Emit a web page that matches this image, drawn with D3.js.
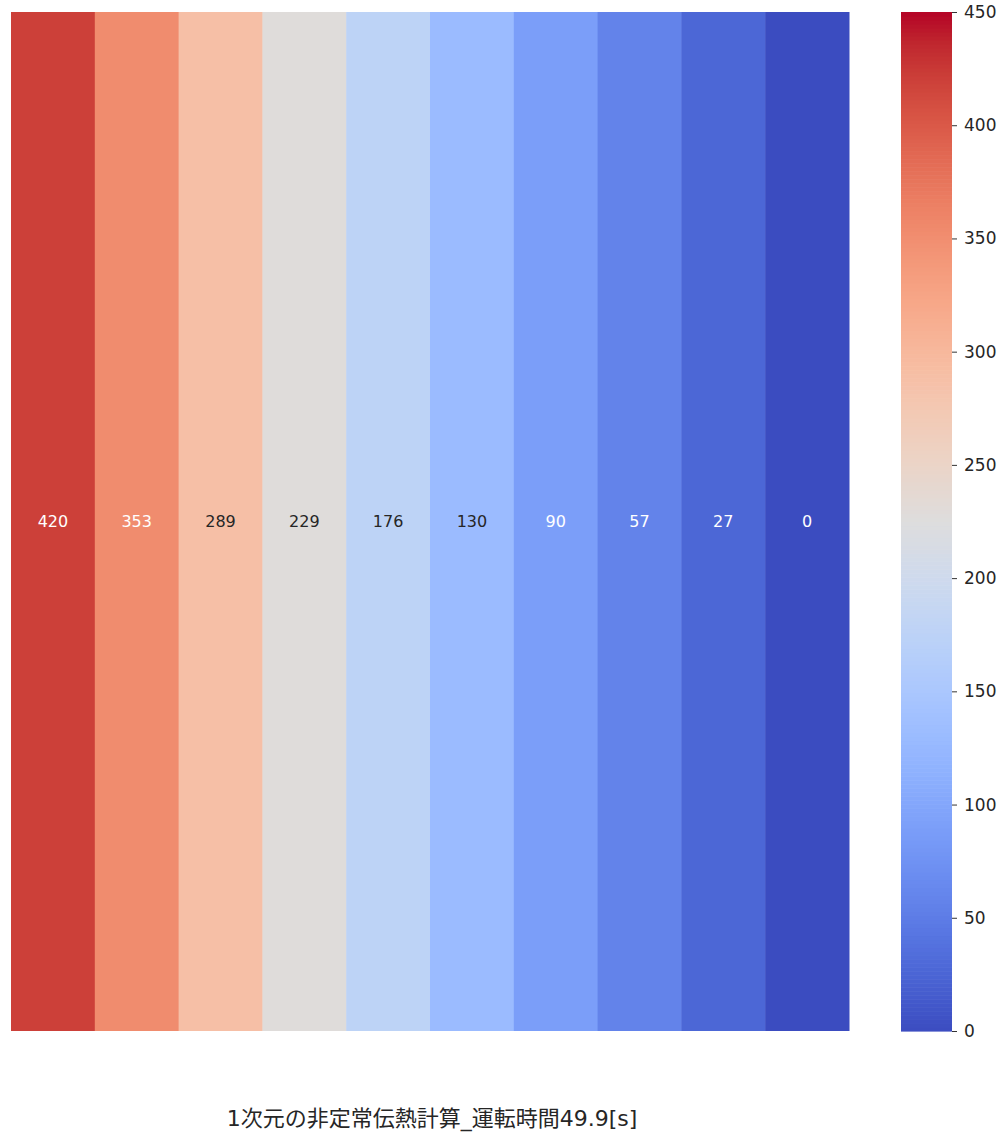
<!DOCTYPE html>
<html lang="ja">
    <head>
        <meta charset="utf-8">
        <title>1次元の非定常伝熱計算</title>
        <script src="https://d3js.org/d3.v7.min.js"></script>
        <style type="text/css">
            body { margin: 0; background: #fff; }
            text { font-family: "DejaVu Sans", "Noto Sans CJK JP", sans-serif; }
        </style>
    </head>
    <body>
        <svg id="heatmap" width="1004" height="1139"></svg>
        <script>
            // temperature at each node, left to right
            var temps = [420, 353, 289, 229, 176, 130, 90, 57, 27, 0];
            var nodes = d3.range(temps.length);
            var cbarTicks = [0, 50, 100, 150, 200, 250, 300, 350, 400, 450];
            var title = '1次元の非定常伝熱計算_運転時間49.9[s]';

            // matplotlib "coolwarm" stops (Moreland)
            var coolwarm = [
                [59,76,192],[68,90,204],[77,104,215],[87,117,225],[98,130,234],[108,142,241],
                [119,154,247],[130,165,251],[141,176,254],[152,185,255],[163,194,255],[174,201,253],
                [184,208,249],[194,213,244],[204,217,238],[213,219,230],[221,221,221],[229,216,209],
                [236,211,197],[241,204,185],[245,196,173],[247,187,160],[247,177,148],[247,166,135],
                [244,154,123],[241,141,111],[236,127,99],[229,112,88],[222,96,77],[213,80,66],
                [203,62,56],[192,40,47],[180,4,38]
            ].map(function(c) { return d3.rgb(c[0], c[1], c[2]); });
            var cmap = d3.piecewise(d3.interpolateRgb, coolwarm);

            var svg = d3.select('#heatmap');
            var vmin = 0, vmax = 450;
            var color = d3.scaleSequential(cmap).domain([vmin, vmax]);

            var hm = {left: 11, top: 12, right: 849, bottom: 1031};
            var xScale = d3.scaleBand().domain(nodes).range([hm.left, hm.right]);
            var yScale = d3.scaleBand().domain([0]).range([hm.top, hm.bottom]);

            //seaborn-style text colour from luminance
            function lum(c) {
                c = d3.rgb(c);
                var v = [c.r, c.g, c.b].map(function(x) {
                    x = x / 255;
                    return x <= 0.03928 ? x / 12.92 : Math.pow((x + 0.055) / 1.055, 2.4);
                });
                return 0.2126 * v[0] + 0.7152 * v[1] + 0.0722 * v[2];
            }

            svg.selectAll('rect.cell')
               .data(temps)
               .enter()
               .append('rect')
               .attr('class', 'cell')
               .attr('x', function(d, i) { return xScale(i); })
               .attr('y', yScale(0))
               .attr('width', xScale.bandwidth() + 0.5)
               .attr('height', yScale.bandwidth())
               .attr('fill', function(d) { return color(d); });

            svg.selectAll('text.annot')
               .data(temps)
               .enter()
               .append('text')
               .attr('class', 'annot')
               .attr('x', function(d, i) { return xScale(i) + xScale.bandwidth() / 2; })
               .attr('y', yScale(0) + yScale.bandwidth() / 2)
               .attr('dy', '0.36em')
               .attr('text-anchor', 'middle')
               .attr('font-size', 16)
               .attr('fill', function(d) { return lum(color(d)) > 0.408 ? '#262626' : '#ffffff'; })
               .text(function(d) { return d; });

            //Colorbar
            var cb = {left: 901, width: 51, top: 12, bottom: 1031};
            var cbScale = d3.scaleLinear().domain([vmin, vmax]).range([cb.bottom, cb.top]);
            var steps = d3.range(0, 256);
            var stepH = (cb.bottom - cb.top) / steps.length;
            svg.append('g')
               .selectAll('rect')
               .data(steps)
               .enter()
               .append('rect')
               .attr('x', cb.left)
               .attr('width', cb.width)
               .attr('y', function(s) { return cbScale(vmin + (s + 1) / steps.length * (vmax - vmin)); })
               .attr('height', stepH + 0.6)
               .attr('fill', function(s) { return color(vmin + (s + 0.5) / steps.length * (vmax - vmin)); });

            var cbAxis = d3.axisRight(cbScale)
                           .tickValues(cbarTicks)
                           .tickSize(5)
                           .tickPadding(7);
            var axisG = svg.append('g')
               .attr('transform', 'translate(' + (cb.left + cb.width) + ',0)')
               .call(cbAxis);
            axisG.select('.domain').remove();
            axisG.selectAll('line').attr('stroke', '#333');
            axisG.selectAll('text')
                 .attr('font-size', 17)
                 .attr('fill', '#262626')
                 .style('font-family', '"DejaVu Sans", sans-serif');

            //Title under the map
            svg.append('text')
               .attr('x', 432)
               .attr('y', 1126)
               .attr('text-anchor', 'middle')
               .attr('font-size', 22)
               .attr('fill', '#262626')
               .text(title);
        </script>
    </body>
</html>
